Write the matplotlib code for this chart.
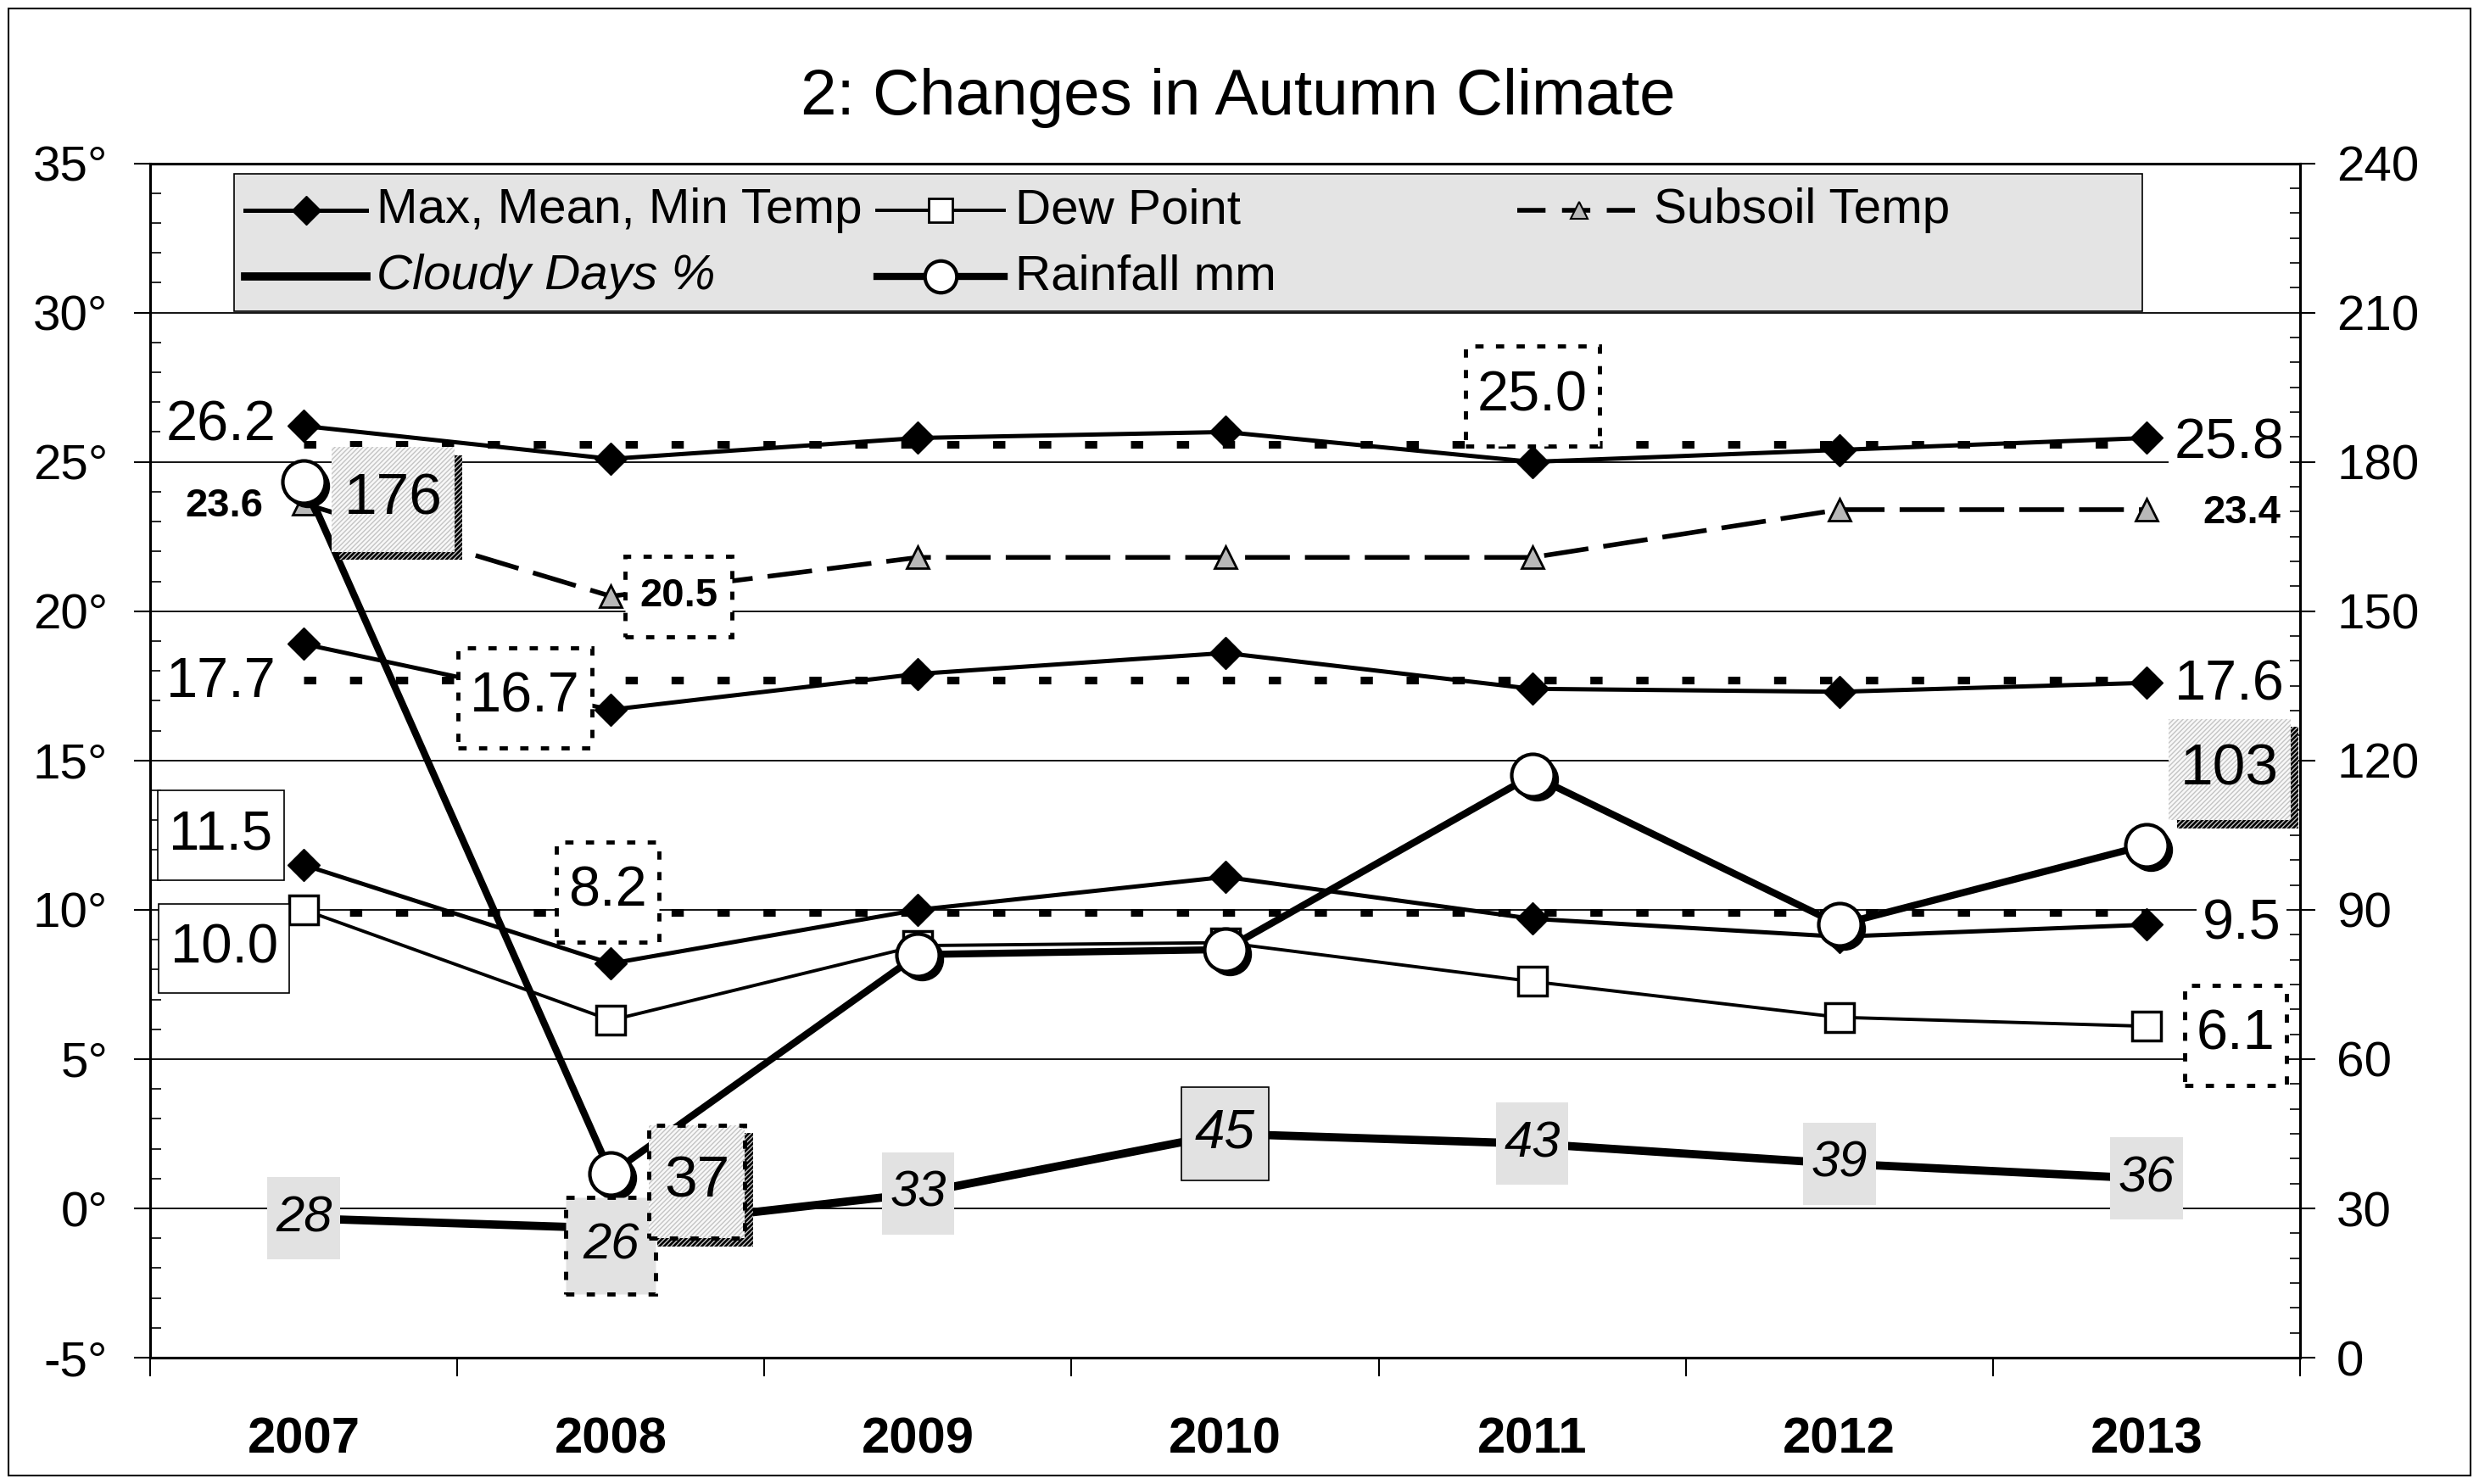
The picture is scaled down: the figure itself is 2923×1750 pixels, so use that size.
import numpy as np
import matplotlib
matplotlib.use('Agg')
import matplotlib.pyplot as plt
from matplotlib.patches import Rectangle
from matplotlib.lines import Line2D
from matplotlib.path import Path
from matplotlib.ticker import MultipleLocator
from matplotlib.transforms import offset_copy
import matplotlib.patheffects as pe

plt.rcParams['font.family'] = ['Liberation Sans', 'DejaVu Sans']
plt.rcParams['hatch.linewidth'] = 1.0

# data
years = ['2007', '2008', '2009', '2010', '2011', '2012', '2013']
max_temp = [26.2, 25.1, 25.8, 26.0, 25.0, 25.4, 25.8]
mean_temp = [18.9, 16.7, 17.9, 18.6, 17.4, 17.3, 17.6]
min_temp = [11.5, 8.2, 10.0, 11.1, 9.7, 9.1, 9.5]
dew_point = [10.0, 6.3, 8.8, 8.9, 7.6, 6.4, 6.1]
subsoil = [23.6, 20.5, 21.8, 21.8, 21.8, 23.4, 23.4]
rainfall = [176, 37, 81, 82, 117, 87, 103]
cloudy = [28, 26, 33, 45, 43, 39, 36]
# long term averages (dotted lines) for max, mean, min
avg_temp = [25.6, 17.7, 9.9]

left_ticks = [-5, 0, 5, 10, 15, 20, 25, 30, 35]
right_ticks = [0, 30, 60, 90, 120, 150, 180, 210, 240]

x = np.arange(len(years))


class RectBox:
    """box style with separate x and y padding (fraction of font size)"""
    def __init__(self, padx, pady):
        self.padx = padx
        self.pady = pady

    def __call__(self, x0, y0, width, height, mutation_size, *args):
        px = self.padx * mutation_size
        py = self.pady * mutation_size
        x1, y1 = x0 + width + px, y0 + height + py
        x0, y0 = x0 - px, y0 - py
        return Path([(x0, y0), (x1, y0), (x1, y1), (x0, y1), (x0, y0)],
                    closed=True)


fig = plt.figure(figsize=(29.23, 17.5), dpi=100)
ax = fig.add_axes([0.0606, 0.0851, 0.8672, 0.8049])
ax2 = ax.twinx()

ax.set_xlim(-0.5, 6.5)
ax.set_ylim(-5, 35)
ax2.set_ylim(0, 240)

# grid
ax.set_axisbelow(True)
ax.grid(axis='y', which='major', color='k', lw=1.3)

# ticks
ax.set_yticks(left_ticks)
ax.set_yticklabels([f'{v}°' for v in left_ticks])
ax.yaxis.set_minor_locator(MultipleLocator(1))
ax.tick_params(axis='y', which='major', direction='out', length=14, width=1.5,
               labelsize=42, pad=22)
ax.tick_params(axis='y', which='minor', direction='in', length=9, width=1.2)

ax2.set_yticks(right_ticks)
ax2.yaxis.set_minor_locator(MultipleLocator(5))
ax2.tick_params(axis='y', which='major', direction='out', length=13, width=1.5,
                labelsize=42, pad=18)
ax2.tick_params(axis='y', which='minor', direction='in', length=9, width=1.2)

ax.set_xticks(x)
ax.set_xticklabels(years, fontweight='bold', fontsize=43)
ax.set_xticks(np.arange(-0.5, 7, 1), minor=True)
ax.tick_params(axis='x', which='major', length=0, pad=50)
ax.tick_params(axis='x', which='minor', direction='out', length=16, width=1.5)

for a in (ax, ax2):
    for s in a.spines.values():
        s.set_linewidth(2.2)

# temperature lines
for series in (max_temp, mean_temp, min_temp):
    ax.plot(x, series, color='k', lw=3.6, marker='D', ms=19, zorder=5)
ax.plot(x, dew_point, color='k', lw=2.8, marker='s', ms=24, mfc='white',
        mec='k', mew=2.5, zorder=5)
ax.plot(x, subsoil, color='k', lw=4, dashes=(9.5, 3.2), marker='^', ms=19,
        mfc='#b8b8b8', mec='k', mew=2, zorder=5)
for v in avg_temp:
    ax.plot([x[0], x[-1]], [v, v], color='k', lw=6.5, ls=(0, (1.6, 4.4)),
            zorder=4)

# right axis lines
ax2.plot(x, cloudy, color='k', lw=7, zorder=2)
ax2.plot(x, rainfall, color='k', lw=6, zorder=3)
shadow = offset_copy(ax2.transData, fig=fig, x=5, y=-5, units='dots')
ax2.plot(x, rainfall, 'o', ms=36, color='k', transform=shadow, zorder=3)
ax2.plot(x, rainfall, 'o', ms=36, mfc='white', mec='k', mew=3, zorder=3.1)

# label boxes
dots = (0, (2, 3))
boxes = {
    'plain': dict(boxstyle=RectBox(0.1, 0.1), fc='white', ec='none'),
    'none': None,
    'solid': dict(boxstyle=RectBox(0.21, 0.35), fc='white', ec='k', lw=1.2),
    'dotted': dict(boxstyle=RectBox(0.21, 0.42), fc='white', ec='k', lw=3.5,
                   ls=dots),
    'dotted_bold': dict(boxstyle=RectBox(0.36, 0.54), fc='white', ec='k',
                        lw=3.5, ls=dots),
    'gray': dict(boxstyle=RectBox(0.16, 0.35), fc='#e2e2e2', ec='none'),
    'gray_solid': dict(boxstyle=RectBox(0.25, 0.39), fc='#e2e2e2', ec='k',
                       lw=1.2),
    'gray_dotted': dict(boxstyle=RectBox(0.33, 0.5), fc='#e2e2e2', ec='k',
                        lw=3.5, ls=dots),
}

temp_labels = [
    (f'{max_temp[0]:.1f}', -0.27, 26.2, 'plain', 48, 'normal'),
    (f'{subsoil[0]:.1f}', -0.26, 23.5, 'none', 34, 'bold'),
    (f'{subsoil[1]:.1f}', 1.22, 20.5, 'dotted_bold', 34, 'bold'),
    (f'{max_temp[4]:.1f}', 4.0, 27.2, 'dotted', 48, 'normal'),
    (f'{max_temp[6]:.1f}', 6.27, 25.6, 'plain', 48, 'normal'),
    (f'{subsoil[6]:.1f}', 6.31, 23.3, 'none', 34, 'bold'),
    (f'{avg_temp[1]:.1f}', -0.27, 17.6, 'plain', 48, 'normal'),
    (f'{mean_temp[1]:.1f}', 0.72, 17.1, 'dotted', 48, 'normal'),
    (f'{mean_temp[6]:.1f}', 6.27, 17.5, 'plain', 48, 'normal'),
    (f'{min_temp[0]:.1f}', -0.27, 12.5, 'solid', 47, 'normal'),
    (f'{dew_point[0]:.1f}', -0.26, 8.7, 'solid', 47, 'normal'),
    (f'{min_temp[1]:.1f}', 0.99, 10.6, 'dotted', 48, 'normal'),
    (f'{min_temp[6]:.1f}', 6.31, 9.5, 'plain', 48, 'normal'),
    (f'{dew_point[6]:.1f}', 6.29, 5.8, 'dotted', 48, 'normal'),
]
for txt, lx, ly, style, size, weight in temp_labels:
    ax.text(lx, ly, txt, ha='center', va='center', fontsize=size,
            fontweight=weight, bbox=boxes[style], zorder=6)

# rainfall labels (hatched, with shadow)
rain_labels = [(0, 0.29, 172.5, RectBox(0.21, 0.43), False),
               (1, 1.28, 35.4, RectBox(0.26, 0.5), True),
               (6, 6.27, 118.2, RectBox(0.2, 0.4), False)]
for i, lx, ly, bstyle, dashed in rain_labels:
    t = ax2.text(lx, ly, f'{rainfall[i]}', ha='center', va='center',
                 fontsize=50, zorder=8,
                 bbox=dict(boxstyle=bstyle, fc='#f8f8f8', ec='#c4c4c4', lw=0,
                           hatch='//////'))
    t.get_bbox_patch().set_path_effects(
        [pe.withSimplePatchShadow(offset=(7, -7), shadow_rgbFace='k', alpha=1),
         pe.Normal()])
    if dashed:
        ax2.text(lx, ly, f'{rainfall[i]}', ha='center', va='center',
                 fontsize=50, zorder=8.1, color='none',
                 bbox=dict(boxstyle=bstyle, fc='none', ec='k', lw=3.5,
                           ls=dots))

# cloudy day labels
cloud_style = ['gray', 'gray_dotted', 'gray', 'gray_solid', 'gray', 'gray', 'gray']
cloud_shift = [0, -3.5, 0, 0, 0, 0, 0]
for i, v in enumerate(cloudy):
    ax2.text(x[i], v + cloud_shift[i], f'{v}', ha='center', va='center',
             fontsize=46 if i == 3 else 43, style='italic',
             bbox=boxes[cloud_style[i]], zorder=7)

# legend, drawn by hand so the columns sit where they do in the original
ax2.add_patch(Rectangle((0.039, 0.8758), 0.8875, 0.115, transform=ax2.transAxes,
                        fc='#e4e4e4', ec='k', lw=1.2, zorder=10))
row1, row2 = 0.9604, 0.9049
leg_fs = 42
handles = [
    (0.0441, 0.1007, row1, dict(color='k', lw=3.6, marker='D', ms=17)),
    (0.0441, 0.1007, row2, dict(color='k', lw=7)),
    (0.3382, 0.3971, row1, dict(color='k', lw=2.8, marker='s', ms=20,
                                mfc='white', mec='k', mew=2)),
    (0.3382, 0.3971, row2, dict(color='k', lw=6, marker='o', ms=27,
                                mfc='white', mec='k', mew=3)),
    (0.6360, 0.6934, row1, dict(color='k', lw=4, dashes=(6, 3.5), marker='^',
                                ms=14, mfc='#b8b8b8', mec='k', mew=1.5)),
]
for x0, x1, yy, kw in handles:
    ln = Line2D([x0, (x0 + x1) / 2, x1], [yy, yy, yy], transform=ax2.transAxes,
                zorder=11, markevery=[1], **kw)
    ax2.add_line(ln)

leg_texts = [
    (0.1051, row1, 'Max, Mean, Min Temp', 'normal'),
    (0.1051, row2, 'Cloudy Days %', 'italic'),
    (0.4022, row1, 'Dew Point', 'normal'),
    (0.4022, row2, 'Rainfall mm', 'normal'),
    (0.6993, row1, 'Subsoil Temp', 'normal'),
]
for tx, ty, label, st in leg_texts:
    ax2.text(tx, ty, label, transform=ax2.transAxes, va='center', ha='left',
             fontsize=leg_fs, style=st, zorder=11)

# title and outer frame
fig.text(0.4995, 0.934, '2: Changes in Autumn Climate', ha='center',
         va='center', fontsize=55)
fig.add_artist(Rectangle((0.0035, 0.0055), 0.993, 0.989,
                         transform=fig.transFigure, fill=False, ec='k', lw=1.5))

fig.savefig('out.png', dpi=100)
